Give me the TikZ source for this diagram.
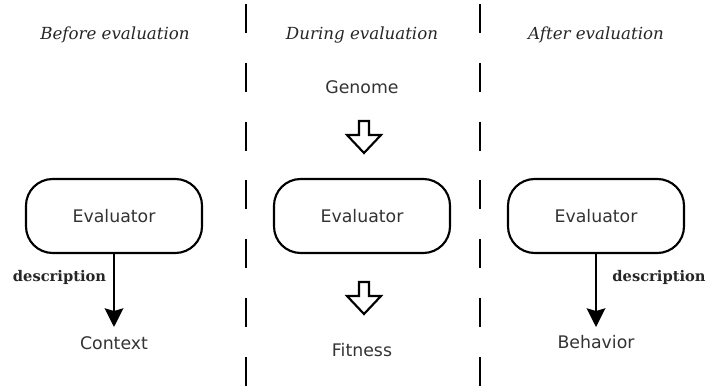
\documentclass[tikz,border=0pt]{standalone}
\usepackage{fontspec}
\setmainfont{DejaVu Sans}
\newfontfamily\headfont{DejaVu Serif}
\usetikzlibrary{arrows.meta}
\tikzset{
  px/.style={x=0.75pt,y=-0.75pt},
  evalbox/.style={draw,line width=1.6pt,rounded corners=20pt,minimum width=132pt,minimum height=55.5pt,font=\fontsize{13}{15}\selectfont,text=black!80},
  plain/.style={font=\fontsize{13}{15}\selectfont,text=black!80},
  heading/.style={font=\headfont\itshape\fontsize{12.5}{15}\selectfont,text=black!85},
  desc/.style={font=\headfont\bfseries\fontsize{11}{13}\selectfont,text=black!85},
  sepline/.style={line width=2.1pt,dash pattern=on 21.75pt off 22.35pt},
  descarrow/.style={line width=1.6pt,-{Stealth[length=14pt,width=14pt,inset=2pt]}},
  hollow/.style={draw,line width=1.6pt,line join=miter,fill=white}
}
\begin{document}
\begin{tikzpicture}[px]
\useasboundingbox (0,0) rectangle (727,391);
% separators
\coordinate (s1t) at (246,4);
\coordinate (s1b) at (246,391);
\coordinate (s2t) at (480,4);
\coordinate (s2b) at (480,391);
\draw[sepline] (s1t) -- (s1b);
\draw[sepline] (s2t) -- (s2b);
% headings
\node[heading] (h1) at (115,35) {Before evaluation};
\node[heading] (h2) at (362,35) {During evaluation};
\node[heading] (h3) at (596,35) {After evaluation};
% boxes
\node[evalbox] (e1) at (114,216) {Evaluator};
\node[evalbox] (e2) at (362,216) {Evaluator};
\node[evalbox] (e3) at (596,216) {Evaluator};
% left column
\node[plain] (ctx) at (114,343) {Context};
\coordinate (t1) at (114,327);
\draw[descarrow] (e1.south) -- (t1);
\node[desc] (d1) at (59.5,277) {description};
% right column
\node[plain] (beh) at (596,342) {Behavior};
\coordinate (t3) at (596,327);
\draw[descarrow] (e3.south) -- (t3);
\node[desc] (d3) at (659,277) {description};
% middle column
\node[plain] (gen) at (362,87) {Genome};
\node[plain] (fit) at (362,350) {Fitness};
\coordinate (a1) at (364,121);
\coordinate (a2) at (364,282);
\foreach \a in {a1,a2}{
  \draw[hollow] ([xshift=-3.75pt]\a) -- ([xshift=3.75pt]\a) -- ([xshift=3.75pt,yshift=-10.5pt]\a)
    -- ([xshift=12.75pt,yshift=-10.5pt]\a) -- ([yshift=-24pt]\a) -- ([xshift=-12.75pt,yshift=-10.5pt]\a)
    -- ([xshift=-3.75pt,yshift=-10.5pt]\a) -- cycle;
}
\end{tikzpicture}
\end{document}
